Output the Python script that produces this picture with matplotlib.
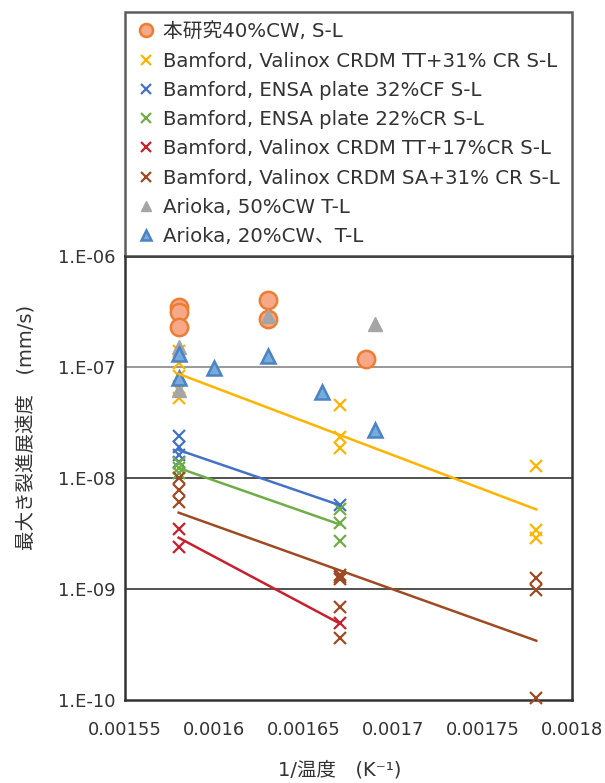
import numpy as np
import matplotlib
matplotlib.use("Agg")
import matplotlib.pyplot as plt
from matplotlib.ticker import FixedLocator

plt.rcParams['font.family'] = ['DejaVu Sans', 'Noto Sans CJK JP']

# ---- data ----
ours_x = [0.00158, 0.00158, 0.00158, 0.00163, 0.00163, 0.001685]
ours_y = [3.45e-7, 3.1e-7, 2.3e-7, 4.05e-7, 2.7e-7, 1.18e-7]

tt31_x = [0.00158] * 5 + [0.00167] * 3 + [0.00178] * 3
tt31_y = [1.4e-7, 1.09e-7, 8.3e-8, 6.2e-8, 5.3e-8, 4.55e-8, 2.35e-8, 1.85e-8, 1.27e-8, 3.4e-9, 2.86e-9]

ensa32_x = [0.00158] * 4 + [0.00167]
ensa32_y = [2.4e-8, 1.9e-8, 1.6e-8, 1.4e-8, 5.7e-9]

ensa22_x = [0.00158] * 3 + [0.00167] * 3
ensa22_y = [1.36e-8, 1.23e-8, 1.11e-8, 5.3e-9, 3.9e-9, 2.7e-9]

tt17_x = [0.00158] * 2 + [0.00167]
tt17_y = [3.5e-9, 2.4e-9, 4.9e-10]

sa31_x = [0.00158] * 3 + [0.00167] * 5 + [0.00178] * 3
sa31_y = [1.0e-8, 7.8e-9, 6.1e-9, 1.34e-9, 1.29e-9, 1.24e-9, 6.9e-10, 3.6e-10, 1.25e-9, 9.8e-10, 1.04e-10]

ar50_x = [0.00158, 0.00158, 0.00163, 0.00169]
ar50_y = [1.5e-7, 6.2e-8, 2.9e-7, 2.45e-7]

ar20_x = [0.00158, 0.00158, 0.0016, 0.00163, 0.00166, 0.00169]
ar20_y = [1.31e-7, 8.0e-8, 9.7e-8, 1.26e-7, 5.9e-8, 2.7e-8]

labels = ["本研究40%CW, S-L",
          "Bamford, Valinox CRDM TT+31% CR S-L",
          "Bamford, ENSA plate 32%CF S-L",
          "Bamford, ENSA plate 22%CR S-L",
          "Bamford, Valinox CRDM TT+17%CR S-L",
          "Bamford, Valinox CRDM SA+31% CR S-L",
          "Arioka, 50%CW T-L",
          "Arioka, 20%CW、T-L"]

xticks = [0.00155, 0.0016, 0.00165, 0.0017, 0.00175, 0.0018]
xtick_labels = ["0.00155", "0.0016", "0.00165", "0.0017", "0.00175", "0.0018"]
yticks = [1e-10, 1e-9, 1e-8, 1e-7, 1e-6]
ytick_labels = ["1.E-10", "1.E-09", "1.E-08", "1.E-07", "1.E-06"]

# ---- figure ----
W, H = 605, 783
fig = plt.figure(figsize=(W / 100, H / 100), dpi=100)
L, R, T, B = 125, 572, 256, 700
ax = fig.add_axes([L / W, 1 - B / H, (R - L) / W, (B - T) / H])

ax.set_yscale('log')
ax.set_xlim(0.00155, 0.0018)
ax.set_ylim(1e-10, 1e-6)

mk = dict(linestyle='none', clip_on=False)
h = []
h += ax.plot(ours_x, ours_y, marker='o', ms=12.5, mfc='#F7A889', mec='#ED7D31', mew=1.8, zorder=3, **mk)
xcols = ['#FFB400', '#4472C4', '#70AD47', '#C8202E', '#9E4A22']
xdata = [(tt31_x, tt31_y), (ensa32_x, ensa32_y), (ensa22_x, ensa22_y), (tt17_x, tt17_y), (sa31_x, sa31_y)]
for (xs, ys), c in zip(xdata, xcols):
    h += ax.plot(xs, ys, marker='x', ms=9, mew=1.6, color=c, zorder=3, **mk)
h += ax.plot(ar50_x, ar50_y, marker='^', ms=10, mfc='#A5A5A5', mec='#A5A5A5', mew=1, zorder=3, **mk)
h += ax.plot(ar20_x, ar20_y, marker='^', ms=10, mfc='#7AAADC', mec='#4A84C4', mew=1.8, zorder=3, **mk)

# exponential trend lines (least squares on log10 y)
for (xs, ys), c in zip(xdata, xcols):
    xs = np.asarray(xs); ly = np.log10(ys)
    p = np.polyfit(xs, ly, 1)
    xx = np.array([xs.min(), xs.max()])
    ax.plot(xx, 10 ** np.polyval(p, xx), color=c, lw=1.8, zorder=4)

# axes styling
ax.yaxis.set_major_locator(FixedLocator(yticks))
ax.yaxis.set_minor_locator(FixedLocator([]))
ax.set_yticklabels(ytick_labels)
ax.xaxis.set_major_locator(FixedLocator(xticks))
ax.set_xticklabels(xtick_labels)
ax.tick_params(axis='both', length=0, labelsize=13, colors='#333333')
ax.tick_params(axis='y', pad=7)
ax.tick_params(axis='x', pad=15)

grid_cols = {1e-9: '#333333', 1e-8: '#333333', 1e-7: '#888888'}
for yv, c in grid_cols.items():
    ax.axhline(yv, color=c, lw=1.2, zorder=1)

for s in ax.spines.values():
    s.set_color('#333333'); s.set_linewidth(1.8)

ax.set_xlabel("1/温度　(K⁻¹)", fontsize=14, color='#333333')
ax.set_ylabel("最大き裂進展速度　(mm/s)", fontsize=14, color='#333333')
ax.xaxis.set_label_coords((340 - L) / (R - L), -(770 - B) / (B - T), transform=ax.transAxes)
ax.yaxis.set_label_coords(-(L - 27) / (R - L), (B - 427) / (B - T), transform=ax.transAxes)
ax.xaxis.label.set_va('center')
ax.yaxis.label.set_va('center')

leg = ax.legend(h, labels, loc='lower left', bbox_to_anchor=(0, 1, 1, (T - 10) / (B - T)),
                mode='expand', borderaxespad=0, fontsize=14.2, frameon=True, fancybox=False,
                handlelength=1.15, handletextpad=0.3, labelspacing=0.52, borderpad=0.5,
                markerscale=0.75)
leg.get_frame().set_edgecolor('#333333')
leg.get_frame().set_linewidth(1.8)
for t in leg.get_texts():
    t.set_color('#333333')

fig.savefig('out.png', dpi=100)
